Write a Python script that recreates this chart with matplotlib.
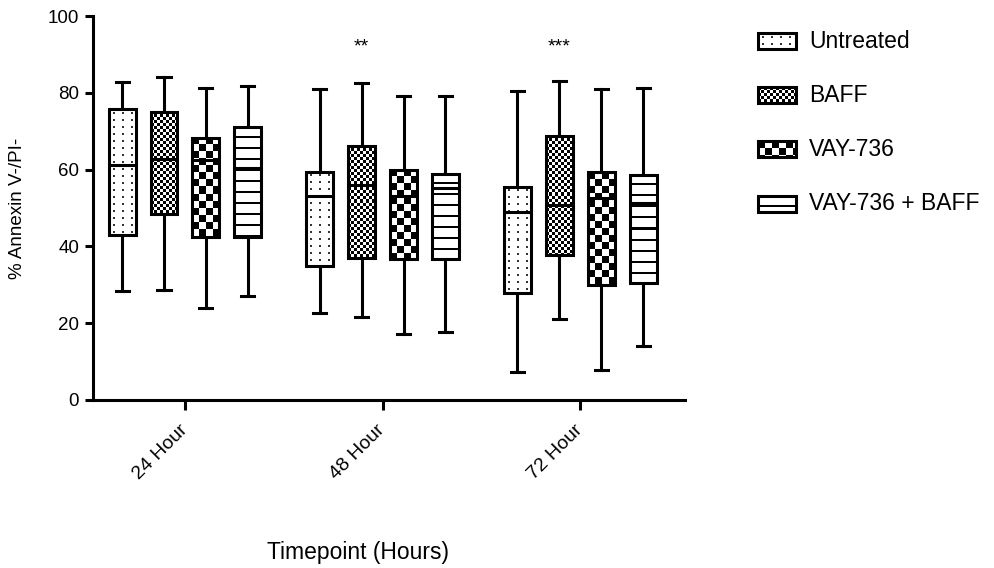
#!/usr/bin/env python3
"""Annexin V-/PI- box plots by timepoint and treatment, pattern-filled boxes."""
import numpy as np
import matplotlib
matplotlib.use("Agg")
import matplotlib.pyplot as plt
from matplotlib.patches import Rectangle

plt.rcParams["font.family"] = ["Liberation Sans", "DejaVu Sans"]

TIMEPOINTS = ["24 Hour", "48 Hour", "72 Hour"]
GROUPS = ["Untreated", "BAFF", "VAY-736", "VAY-736 + BAFF"]
PATTERNS = ["dots", "fine", "checker", "lines"]

# one row per group, one column per timepoint
WHISKER_HIGH = [[82.8, 81.1, 80.6],
                [84.0, 82.6, 83.0],
                [81.2, 79.2, 81.0],
                [81.8, 79.2, 81.3]]
Q3 = [[75.7, 59.5, 55.5],
      [75.1, 66.2, 68.7],
      [68.3, 60.0, 59.3],
      [71.1, 58.9, 58.7]]
MEDIAN = [[61.1, 53.2, 49.0],
          [62.8, 55.9, 50.9],
          [62.5, 53.1, 52.5],
          [60.3, 55.1, 51.4]]
Q1 = [[43.0, 35.0, 27.8],
      [48.4, 37.0, 37.7],
      [42.5, 36.6, 29.9],
      [42.5, 36.6, 30.5]]
WHISKER_LOW = [[28.3, 22.6, 7.3],
               [28.6, 21.7, 21.2],
               [24.0, 17.2, 7.7],
               [27.0, 17.7, 14.1]]

SIG_LABELS = ["", "**", "***"]   # drawn above the BAFF box
SIG_Y = 92


def pattern(kind, nrows, ncols):
    i, j = np.mgrid[0:nrows, 0:ncols]
    if kind == "dots":
        black = (i % 7 >= 3) & (i % 7 <= 4) & (j % 9 >= 4) & (j % 9 <= 5)
        return np.where(black, 0.2, 1.0)
    if kind == "fine":
        black = ((i // 3 + j // 3) % 2) == 0
    elif kind == "checker":
        black = ((i // 7 + j // 7) % 2) == 0
    else:
        black = (i % 11) >= 9
    return np.where(black, 0.0, 1.0)


def fill(ax, clip, kind, x0, x1, y0, y1, zorder):
    p0, p1 = ax.transData.transform([(x0, y0), (x1, y1)])
    ncols = max(int(round(abs(p1[0] - p0[0]))), 1)
    nrows = max(int(round(abs(p1[1] - p0[1]))), 1)
    im = ax.imshow(pattern(kind, nrows, ncols), cmap="gray", vmin=0, vmax=1,
                   extent=(x0, x1, y0, y1), origin="upper", aspect="auto",
                   interpolation="nearest", zorder=zorder)
    im.set_clip_path(clip)


def main():
    fig = plt.figure(figsize=(9.95, 5.68), dpi=100)
    ax = fig.add_axes([0.0935, 0.2958, 0.595, 0.676])
    ax.set_xlim(-0.465, 2.53)
    ax.set_ylim(0, 100)

    step = 0.212
    width = 0.136
    centers = np.arange(len(TIMEPOINTS))
    for gi, g in enumerate(GROUPS):
        stats = [dict(med=MEDIAN[gi][t], q1=Q1[gi][t], q3=Q3[gi][t],
                      whislo=WHISKER_LOW[gi][t], whishi=WHISKER_HIGH[gi][t],
                      fliers=[]) for t in range(len(TIMEPOINTS))]
        pos = centers + (gi - 1.5) * step
        art = ax.bxp(stats, positions=pos, widths=width, capwidths=0.066,
                     patch_artist=True, manage_ticks=False,
                     boxprops=dict(facecolor="none", edgecolor="black",
                                   linewidth=2.2, zorder=3),
                     medianprops=dict(color="black", linewidth=2.2, zorder=4),
                     whiskerprops=dict(color="black", linewidth=2.2),
                     capprops=dict(color="black", linewidth=2.2))
        for t, box in enumerate(art["boxes"]):
            fill(ax, box, PATTERNS[gi], pos[t] - width / 2, pos[t] + width / 2,
                 Q1[gi][t], Q3[gi][t], zorder=2)

    for t, lab in enumerate(SIG_LABELS):
        if lab:
            ax.text(centers[t] + (1 - 1.5) * step, SIG_Y, lab, ha="center",
                    va="center", fontsize=14)

    for s in ["top", "right"]:
        ax.spines[s].set_visible(False)
    for s in ["left", "bottom"]:
        ax.spines[s].set_linewidth(2.2)
    ax.set_yticks(range(0, 101, 20))
    ax.set_xticks(centers)
    ax.set_xticklabels(TIMEPOINTS, rotation=45, ha="right", va="center",
                       rotation_mode="anchor", fontsize=14)
    ax.tick_params(axis="y", length=6, width=2.2, labelsize=13.5, pad=4)
    ax.tick_params(axis="x", length=7, width=2.2, pad=13)
    ax.set_ylabel("% Annexin V-/PI-", fontsize=13.5)
    ax.yaxis.set_label_coords(-0.113, 0.5)
    fig.text(358 / 995, 1 - 553 / 568, "Timepoint (Hours)", ha="center",
             va="center", fontsize=16.5)

    # legend, laid out in figure pixels
    lax = fig.add_axes([0, 0, 1, 1], facecolor="none")
    lax.set_xlim(0, 995)
    lax.set_ylim(568, 0)
    lax.axis("off")
    rows_y = [41, 95, 149, 204]
    for gi, g in enumerate(GROUPS):
        cy = rows_y[gi]
        rect = Rectangle((758, cy - 8), 38, 16, facecolor="none",
                         edgecolor="black", linewidth=2.2, zorder=3)
        lax.add_patch(rect)
        fill(lax, rect, PATTERNS[gi], 758, 796, cy + 8, cy - 8, zorder=2)
        lax.text(809, cy, g, ha="left", va="center", fontsize=16.5)

    fig.savefig("out.png", dpi=100)
    plt.close(fig)


if __name__ == "__main__":
    main()
